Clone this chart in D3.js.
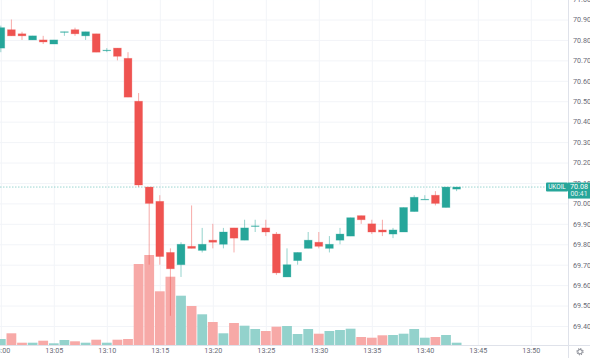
<!DOCTYPE html>
<html>
<head>
<meta charset="utf-8">
<script src="https://cdn.jsdelivr.net/npm/d3@7"></script>
<style>
html, body { margin: 0; padding: 0; background: #fff; overflow: hidden; }
svg { display: block; }
text { font-family: "Roboto", "Liberation Sans", sans-serif; }
.axis text { fill: #6a6d78; font-size: 7.2px; }
.axis .domain { stroke: #dfe2ea; }
.grid line { stroke: #f2f4f8; }
.grid .domain { display: none; }
</style>
</head>
<body>
<svg id="chart" width="590" height="358"></svg>
<script>
var open  = [70.76,70.85,70.83,70.80,70.80,70.78,70.84,70.85,70.82,70.83,70.75,70.76,70.71,70.50,70.08,70.01,69.76,69.70,69.79,69.77,69.82,69.80,69.88,69.82,69.89,69.88,69.85,69.64,69.72,69.78,69.81,69.78,69.82,69.84,69.94,69.90,69.87,69.85,69.86,69.96,70.02,70.04,69.98,70.07];
var high  = [70.87,70.90,70.84,70.82,70.82,70.80,70.84,70.86,70.84,70.83,70.76,70.76,70.74,70.54,70.08,70.04,69.78,69.81,69.99,69.88,69.90,69.88,69.88,69.92,69.92,69.92,69.86,69.78,69.76,69.86,69.86,69.84,69.88,69.93,69.94,69.92,69.92,69.88,69.98,70.04,70.04,70.06,70.08,70.08];
var low   = [70.74,70.82,70.80,70.80,70.78,70.78,70.82,70.82,70.80,70.74,70.74,70.70,70.52,70.08,69.70,69.70,69.45,69.64,69.78,69.76,69.78,69.78,69.76,69.82,69.86,69.84,69.65,69.64,69.70,69.78,69.78,69.76,69.80,69.84,69.90,69.85,69.84,69.83,69.86,69.96,70.02,69.99,69.98,70.06];
var close = [70.86,70.82,70.82,70.82,70.79,70.80,70.84,70.83,70.84,70.74,70.75,70.72,70.52,70.09,70.00,69.74,69.68,69.80,69.78,69.80,69.81,69.86,69.83,69.88,69.89,69.86,69.66,69.70,69.76,69.82,69.79,69.80,69.85,69.93,69.92,69.86,69.86,69.87,69.98,70.03,70.02,70.00,70.08,70.08];
var volume = [60,117,23,23,43,17,50,37,23,53,23,53,60,810,900,537,683,493,390,307,230,117,220,193,160,140,183,190,110,160,113,140,150,163,80,73,97,100,113,160,73,80,100,23];
var volumeUp = [1,0,0,1,0,1,1,0,1,0,1,0,0,0,0,0,0,1,0,1,0,1,0,1,1,0,0,1,1,1,0,1,1,1,0,0,0,1,1,1,1,0,1,1];
var priceTicks = [71.0,70.9,70.8,70.7,70.6,70.5,70.4,70.3,70.2,70.1,70.0,69.9,69.8,69.7,69.6,69.5,69.4];
var timeTicks = ["13:00","13:05","13:10","13:15","13:20","13:25","13:30","13:35","13:40","13:45","13:50"];
var symbol = "UKOIL", lastPrice = 70.08, countdown = "00:41";

var upColor = "#26a69a", downColor = "#ef5350";

var svg = d3.select("#chart");
var width = 568, height = 345;
var parseTime = d3.timeParse("%H:%M"), formatTime = d3.timeFormat("%H:%M");

var x = d3.scaleTime()
    .domain([parseTime("13:00"), parseTime("13:50")])
    .range([0.8, 530.8]);
var y = d3.scaleLinear()
    .domain([69.4, 70.9])
    .range([326, 19.5]);
var v = d3.scaleLinear()
    .domain([0, 900])
    .range([height, 255]);

var barX = function(i) { return x(d3.timeMinute.offset(parseTime("13:00"), i)); };
var rows = d3.range(open.length);

// grid
svg.append("g").attr("class", "grid")
    .call(d3.axisLeft(y).tickValues(priceTicks).tickSize(-width).tickFormat(""))
    .attr("transform", "translate(0,0)")
    .selectAll("line").attr("x1", width).attr("x2", 0);
svg.append("g").attr("class", "grid")
    .attr("transform", "translate(0," + height + ")")
    .call(d3.axisBottom(x).tickValues(timeTicks.map(parseTime)).tickSize(-height).tickFormat(""));

// volume
svg.append("g").selectAll("rect")
    .data(rows)
    .enter().append("rect")
    .attr("x", function(i) { return barX(i) - 4.9; })
    .attr("width", 9.8)
    .attr("y", function(i) { return v(volume[i]); })
    .attr("height", function(i) { return height - v(volume[i]); })
    .attr("fill", function(i) { return volumeUp[i] ? "#93d2cc" : "#f7a9a7"; });

// last price line
svg.append("line")
    .attr("x1", 0).attr("x2", width)
    .attr("y1", y(lastPrice)).attr("y2", y(lastPrice))
    .attr("stroke", upColor).attr("stroke-opacity", 0.45)
    .attr("stroke-dasharray", "1.5,1.5");

// candles
var candle = svg.append("g").selectAll("g")
    .data(rows)
    .enter().append("g")
    .attr("fill", function(i) { return close[i] >= open[i] ? upColor : downColor; })
    .attr("stroke", function(i) { return close[i] >= open[i] ? upColor : downColor; });

candle.append("line")
    .attr("x1", barX).attr("x2", barX)
    .attr("y1", function(i) { return y(high[i]); })
    .attr("y2", function(i) { return y(low[i]); })
    .attr("stroke-opacity", 0.55)
    .attr("stroke-width", 0.9);

candle.append("rect")
    .attr("x", function(i) { return barX(i) - 3.9; })
    .attr("width", 7.8)
    .attr("y", function(i) { return y(Math.max(open[i], close[i])); })
    .attr("height", function(i) { return Math.max(0.6, Math.abs(y(open[i]) - y(close[i]))); })
    .attr("stroke-opacity", 0.35)
    .attr("stroke-width", 0.8);

// axes
var yAxis = svg.append("g").attr("class", "axis")
    .attr("transform", "translate(" + width + ",0)")
    .call(d3.axisRight(y).tickValues(priceTicks).tickSize(0).tickPadding(5).tickFormat(d3.format(".2f")));
yAxis.select(".domain").attr("d", "M0.5,0V358");

var xAxis = svg.append("g").attr("class", "axis")
    .attr("transform", "translate(0," + height + ")")
    .call(d3.axisBottom(x).tickValues(timeTicks.map(parseTime)).tickSize(0).tickPadding(3).tickFormat(formatTime));
xAxis.select(".domain").attr("d", "M0,0.5H590");

// last price tags
var tagY = y(lastPrice);
svg.append("rect").attr("x", 546).attr("y", tagY - 4.5).attr("width", 22).attr("height", 9).attr("fill", upColor).attr("rx", 1);
svg.append("rect").attr("x", 568).attr("y", tagY - 4.5).attr("width", 22).attr("height", 16).attr("fill", upColor);
svg.append("text").attr("x", 557).attr("y", tagY + 2.4).attr("text-anchor", "middle")
    .attr("font-size", 6.4).attr("fill", "#fff").text(symbol);
svg.append("text").attr("x", 579).attr("y", tagY + 2.4).attr("text-anchor", "middle")
    .attr("font-size", 7.2).attr("fill", "#fff").text(lastPrice.toFixed(2));
svg.append("text").attr("x", 579).attr("y", tagY + 9.4).attr("text-anchor", "middle")
    .attr("font-size", 6.8).attr("fill", "#e4f4f2").text(countdown);

// settings gear
var gear = svg.append("g").attr("transform", "translate(580,351.7)");
gear.append("circle").attr("r", 2.2).attr("fill", "none").attr("stroke", "#6a6d78").attr("stroke-width", 0.8);
gear.append("circle").attr("r", 3.1).attr("fill", "none").attr("stroke", "#6a6d78").attr("stroke-width", 1)
    .attr("stroke-dasharray", "1.2,1.23");
</script>
</body>
</html>
